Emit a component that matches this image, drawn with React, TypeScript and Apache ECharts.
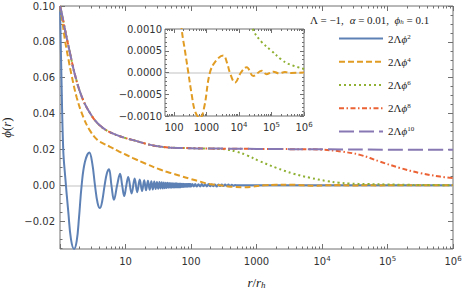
import React, { useEffect, useRef } from 'react';
import * as echarts from 'echarts';

// ---------- data (r / r_h , phi) ----------
const commonHead: [number, number][] = [
  [1, 0.1], [1.06, 0.0962], [1.19, 0.0869], [1.42, 0.0738], [1.69, 0.0617], [2.14, 0.0496],
  [2.87, 0.0403], [4.08, 0.0333], [6.5, 0.0288], [13.1, 0.0252], [33.6, 0.0216], [100, 0.0207],
];

const phi2: [number, number][] = [
  [1, 0.1], [1.05, 0.062], [1.12, 0.02], [1.2, 0.005], [1.34, -0.015], [1.47, -0.03], [1.64, -0.0355],
  [1.8, -0.031], [1.95, -0.018], [2.14, 0], [2.4, 0.013], [2.8, 0.0183], [3.1, 0.0125], [3.42, 0],
  [3.75, -0.0098], [4.08, -0.0127], [4.4, -0.009], [4.8, 0], [5.2, 0.0068], [5.6, 0.009], [6.1, 0],
  [6.66, -0.0081], [7.45, 0], [8.25, 0.0064], [8.9, 0], [9.55, -0.006], [10.3, 0], [11.0, 0.0047],
  [12.4, -0.0046], [13.8, 0.0038], [15.1, -0.0038], [16.5, 0.0032], [17.9, -0.0032], [19.3, 0.0028],
  [20.6, -0.0028], [22.0, 0.0025], [23.4, -0.0025], [24.8, 0.0023], [26.1, -0.0023], [27.5, 0.0021],
  [28.9, -0.0021], [30.2, 0.0019], [31.6, -0.0019], [33.0, 0.0018], [34.3, -0.0018], [35.7, 0.0017],
  [37.1, -0.0017], [38.4, 0.0016], [39.8, -0.0016], [41.2, 0.0015], [42.5, -0.0015], [43.9, 0.0014],
  [45.3, -0.0014], [46.6, 0.0013], [48.0, -0.0013], [49.4, 0.0013], [50.7, -0.0013], [52.1, 0.0012],
  [53.5, -0.0012], [54.8, 0.0012], [56.2, -0.0012], [57.6, 0.0011], [58.9, -0.0011], [60.3, 0.0011],
  [61.7, -0.0011], [63.0, 0.001], [64.4, -0.001], [65.8, 0.001], [67.1, -0.001], [68.5, 0.001],
  [69.9, -0.001], [71.2, 0.0009], [72.6, -0.0009], [74.0, 0.0009], [75.3, -0.0009], [76.7, 0.0009],
  [78.1, -0.0009], [79.4, 0.0008], [80.8, -0.0008], [82.2, 0.0008], [83.5, -0.0008], [84.9, 0.0008],
  [86.3, -0.0008], [87.6, 0.0008], [89.0, -0.0008], [90.4, 0.0007], [91.7, -0.0007], [93.1, 0.0007],
  [94.5, -0.0007], [95.8, 0.0007], [97.2, -0.0007], [98.6, 0.0007], [100, -0.0007], [105, 0.0008],
  [110, -0.0006], [116, 0.0007], [122, -0.0007], [130, 0.0006], [138, -0.0006], [146, 0.0008],
  [155, -0.0005], [165, 0.0006], [175, -0.0006], [185, 0.0007], [196, -0.0005], [208, 0.0006],
  [220, -0.0005], [233, 0.0005], [247, -0.0006], [262, 0.0005], [278, -0.0004], [295, 0.0005],
  [313, -0.0004], [332, 0.0005], [352, -0.0003], [373, 0.0004], [395, -0.0003], [420, 0.0003],
  [445, -0.0002], [470, 0.0002], [500, 0], [1000, 0], [1e6, 0],
];

const phi4: [number, number][] = [
  [1, 0.1], [1.1, 0.09], [1.19, 0.081], [1.35, 0.07], [1.51, 0.061], [1.8, 0.049], [2.27, 0.038],
  [2.87, 0.0305], [3.7, 0.0254], [4.6, 0.0233], [5.8, 0.0215], [8, 0.0188], [10, 0.0172], [13, 0.0152],
  [20, 0.0122], [33.6, 0.0088], [50, 0.0068], [68, 0.0053], [100, 0.0035], [137, 0.0021], [173, 0.001],
  [218, 0.0005], [276, 0], [350, -0.0005], [450, -0.0009], [631, -0.00105], [850, -0.0008], [1280, 0],
  [2000, 0.00028], [3290, 0.00039], [4300, 0.00022], [5240, 0], [7530, -0.00023], [11500, 0],
  [17300, 0.00012], [27500, -0.00008], [50000, 0.00004], [71000, -0.00004], [115000, 0.00002],
  [170000, -0.00002], [260000, 0.00001], [400000, -0.00001], [1e6, 0],
];

const phi6Tail: [number, number][] = [
  [250, 0.0204], [350, 0.02], [500, 0.0187], [707, 0.0168], [1130, 0.0134], [2030, 0.0097],
  [3660, 0.0065], [6560, 0.0042], [11800, 0.0024], [18000, 0.0015], [26500, 0.001], [50000, 0.0007],
  [100000, 0.0005], [200000, 0.0003], [330000, 0.0002], [1e6, 0.00008],
];

const phi8Tail: [number, number][] = [
  [1000, 0.0203], [6000, 0.0201], [10000, 0.0199], [20000, 0.0188], [38000, 0.017], [77000, 0.0132],
  [155000, 0.0097], [316000, 0.0068], [632000, 0.0049], [1e6, 0.004],
];

const phi10Tail: [number, number][] = [
  [300, 0.0205], [1000, 0.0203], [1e4, 0.0201], [1e5, 0.0199], [1e6, 0.0198],
];

const seriesNames = ['p2', 'p4', 'p6', 'p8', 'p10'];
const seriesPowers = ['2', '4', '6', '8', '10'];
const seriesColors = ['#5E81B5', '#E19C24', '#8FB032', '#EB6235', '#8778B3'];

// ticks
const mainXLabels = [10, 100, 1000, 1e4, 1e5, 1e6];
const mainXMajor = [1, 10, 100, 1000, 1e4, 1e5, 1e6];
const insetXLabels = [100, 1000, 1e4, 1e5, 1e6];
const mantissas = [2, 3, 4, 5, 6, 7, 8, 9];
const decades = [1, 10, 100, 1000, 1e4, 1e5];
const mainYLabels = [-0.02, 0, 0.02, 0.04, 0.06, 0.08, 0.1];
const mainYMinor = [-0.035, -0.03, -0.025, -0.015, -0.01, -0.005, 0.005, 0.01, 0.015, 0.025, 0.03, 0.035,
  0.045, 0.05, 0.055, 0.065, 0.07, 0.075, 0.085, 0.09, 0.095];
const insetYLabels = [-0.001, -0.0005, 0, 0.0005, 0.001];
const insetYMinor = [-0.0009, -0.0008, -0.0007, -0.0006, -0.0004, -0.0003, -0.0002, -0.0001,
  0.0001, 0.0002, 0.0003, 0.0004, 0.0006, 0.0007, 0.0008, 0.0009];
const zeroRef = [0];

const MAIN_X = [1, 1e6];
const MAIN_Y = [-0.0355, 0.1];
const INSET_X = [53, 1e6];
const INSET_Y = [-0.001, 0.001];

const AXIS_COLOR = '#707070';
const LABEL_COLOR = '#333';
const TICK_FONT = 'DejaVu Sans';
const SERIF = 'Liberation Serif';

const minorX = decades.flatMap((d) => mantissas.map((m) => m * d));

const supRich = {
  sup: { fontSize: 7, verticalAlign: 'top', lineHeight: 9, fontFamily: TICK_FONT, color: LABEL_COLOR },
};

function xFmt(v: number) {
  const e = Math.round(Math.log10(v));
  return e <= 3 ? String(Math.round(v)) : `10{sup|${e}}`;
}
function minusFmt(digits: number) {
  return (v: number) => (v < -1e-12 ? '\u2212' : '') + Math.abs(v).toFixed(digits);
}

function axis(
  gridIndex: number, type: string, range: number[], position: string, ticks: number[], len: number,
  labels?: number[], fmt?: any, margin = 5,
) {
  const ax: any = {
    type, gridIndex, min: range[0], max: range[1], position,
    axisLine: { show: false, onZero: false },
    splitLine: { show: false },
    axisTick: { show: true, inside: true, length: len, customValues: ticks, lineStyle: { color: AXIS_COLOR, width: 1 } },
    axisLabel: labels
      ? { show: true, customValues: labels, formatter: fmt, fontFamily: TICK_FONT, fontSize: 10, color: LABEL_COLOR, margin, lineHeight: 13, rich: supRich }
      : { show: false },
  };
  if (type === 'log') ax.logBase = 10;
  return ax;
}

function zeroAxis(gridIndex: number, range: number[]) {
  return {
    type: 'value', gridIndex, min: range[0], max: range[1], position: 'left',
    axisLine: { show: false, onZero: false },
    axisTick: { show: false, customValues: zeroRef },
    axisLabel: { show: false, customValues: zeroRef },
    splitLine: { show: true, lineStyle: { color: '#d6d6d6', width: 1.5, type: 'solid' } },
  };
}

const dashes: any[] = ['solid', [6, 3], [2, 3], [5, 2.5, 1.5, 2.5], [15, 5]];

export default function App() {
  const ref = useRef<HTMLDivElement>(null);
  useEffect(() => {
    if (!ref.current) return;
    const chart = echarts.init(ref.current, undefined, { renderer: 'svg' });

    const mainData = [
      phi2,
      phi4,
      [...commonHead, ...phi6Tail],
      [...commonHead, ...phi8Tail],
      [...commonHead, ...phi10Tail],
    ];

    const series: any[] = mainData.map((d, i) => ({
      type: 'line', name: seriesNames[i], data: d, xAxisIndex: 0, yAxisIndex: 0,
      showSymbol: false, symbol: 'none', smooth: 0.4, clip: true,
      lineStyle: { color: seriesColors[i], width: 2, type: dashes[i] },
      itemStyle: { color: seriesColors[i] },
      z: 2 + i,
    }));
    [1, 2].forEach((i) => {
      series.push({
        type: 'line', name: seriesNames[i], data: mainData[i], xAxisIndex: 4, yAxisIndex: 4,
        showSymbol: false, symbol: 'none', smooth: 0.4, clip: true,
        lineStyle: { color: seriesColors[i], width: 2, type: dashes[i] },
        itemStyle: { color: seriesColors[i] },
        z: 12 + i,
      });
    });

    const xAxes = [
      { ...axis(0, 'log', MAIN_X, 'bottom', mainXMajor, 5, mainXLabels, xFmt, 6),
        name: '{i|r}/{i|r}{s|h}', nameLocation: 'middle', nameGap: 27,
        nameTextStyle: { fontFamily: SERIF, fontSize: 13, color: '#222',
          rich: { i: { fontStyle: 'italic', fontFamily: SERIF, fontSize: 13 }, s: { fontStyle: 'italic', fontFamily: SERIF, fontSize: 9, verticalAlign: 'bottom', lineHeight: 10 } } } },
      axis(0, 'log', MAIN_X, 'bottom', minorX, 2.5),
      axis(0, 'log', MAIN_X, 'top', mainXMajor, 5),
      axis(0, 'log', MAIN_X, 'top', minorX, 2.5),
      axis(1, 'log', INSET_X, 'bottom', insetXLabels, 4, insetXLabels, xFmt, 5),
      axis(1, 'log', INSET_X, 'bottom', minorX.filter((v) => v > 53), 2),
      axis(1, 'log', INSET_X, 'top', insetXLabels, 4),
      axis(1, 'log', INSET_X, 'top', minorX.filter((v) => v > 53), 2),
    ];
    const yAxes = [
      { ...axis(0, 'value', MAIN_Y, 'left', mainYLabels, 5, mainYLabels, minusFmt(2), 5),
        name: '{i|ϕ}({i|r})', nameLocation: 'middle', nameGap: 40, nameRotate: 90,
        nameTextStyle: { fontFamily: SERIF, fontSize: 13, color: '#222',
          rich: { i: { fontStyle: 'italic', fontFamily: SERIF, fontSize: 13 } } } },
      axis(0, 'value', MAIN_Y, 'left', mainYMinor, 2.5),
      axis(0, 'value', MAIN_Y, 'right', mainYLabels, 5),
      axis(0, 'value', MAIN_Y, 'right', mainYMinor, 2.5),
      axis(1, 'value', INSET_Y, 'left', insetYLabels, 4, insetYLabels, minusFmt(4), 3),
      axis(1, 'value', INSET_Y, 'left', insetYMinor, 2),
      axis(1, 'value', INSET_Y, 'right', insetYLabels, 4),
      axis(1, 'value', INSET_Y, 'right', insetYMinor, 2),
      zeroAxis(0, MAIN_Y),
      zeroAxis(1, INSET_Y),
    ];

    const option: any = {
      animation: false,
      backgroundColor: '#ffffff',
      title: {
        text: 'Λ = \u22121,  {i|α} = 0.01,  {i|ϕ}{s|h} = 0.1',
        left: 305, top: 9,
        textStyle: {
          fontFamily: SERIF, fontSize: 11, fontWeight: 'normal', color: '#222',
          rich: {
            i: { fontStyle: 'italic', fontFamily: SERIF, fontSize: 11, color: '#222' },
            s: { fontStyle: 'italic', fontFamily: SERIF, fontSize: 7, verticalAlign: 'bottom', lineHeight: 8, color: '#222' },
          },
        },
      },
      legend: {
        orient: 'vertical', left: 333, top: 28,
        itemWidth: 44, itemHeight: 14, itemGap: 12,
        data: seriesNames,
        selectedMode: false,
        itemStyle: { color: 'rgba(0,0,0,0)', borderColor: 'rgba(0,0,0,0)', borderWidth: 0, opacity: 0 },
        formatter: (name: string) => `2Λ{i|ϕ}{sup|${seriesPowers[seriesNames.indexOf(name)]}}`,
        textStyle: {
          fontFamily: SERIF, fontSize: 11, color: '#222',
          rich: {
            i: { fontStyle: 'italic', fontFamily: SERIF, fontSize: 11, color: '#222' },
            sup: { fontFamily: SERIF, fontSize: 7, verticalAlign: 'top', lineHeight: 9, color: '#222' },
          },
        },
      },
      grid: [
        { left: 60, top: 6, width: 393, height: 243, show: true, borderColor: AXIS_COLOR, borderWidth: 1, backgroundColor: 'transparent', containLabel: false, outerBoundsMode: 'none' },
        { left: 165, top: 29, width: 139, height: 87, show: true, borderColor: AXIS_COLOR, borderWidth: 1, backgroundColor: '#ffffff', containLabel: false, outerBoundsMode: 'none' },
      ],
      xAxis: xAxes,
      yAxis: yAxes,
      series,
    };
    chart.setOption(option);
    return () => chart.dispose();
  }, []);
  return <div ref={ref} style={{ position: 'fixed', left: 0, top: 0, width: 463, height: 296 }} />;
}
